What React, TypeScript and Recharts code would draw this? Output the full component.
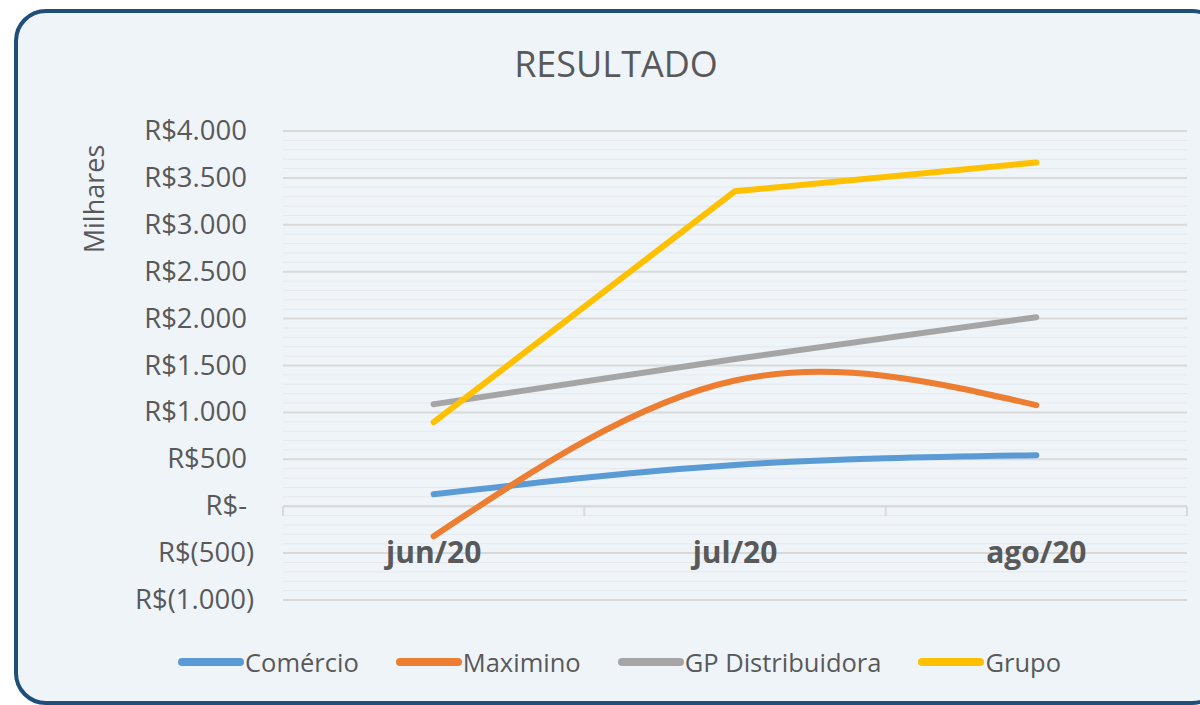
import React from 'react';
import { LineChart, Line, XAxis, YAxis, CartesianGrid, ReferenceLine } from 'recharts';

const categories = ['jun/20', 'jul/20', 'ago/20'];
const comercio = [128, 440, 544];
const maximino = [-320, 1340, 1077];
const gpDistribuidora = [1087, 1570, 2015];
const grupo = [896, 3358, 3665];
const yTicks = [-1000, -500, 0, 500, 1000, 1500, 2000, 2500, 3000, 3500, 4000];
const minorTicks = Array.from({ length: 51 }, (_, i) => -1000 + i * 100);
const categoryEdges = [-0.5, 0.5, 1.5, 2.5];

const series = [
  { key: 'comercio', name: 'Comércio', color: '#5b9bd5', curve: 'natural' as const },
  { key: 'maximino', name: 'Maximino', color: '#ed7d31', curve: 'natural' as const },
  { key: 'gp', name: 'GP Distribuidora', color: '#a5a5a5', curve: 'natural' as const },
  { key: 'grupo', name: 'Grupo', color: '#ffc000', curve: 'linear' as const },
];

const data = categories.map((c, i) => ({
  idx: i,
  name: c,
  comercio: comercio[i],
  maximino: maximino[i],
  gp: gpDistribuidora[i],
  grupo: grupo[i],
}));

const FONT = '"Open Sans", "Noto Sans", sans-serif';
const TEXT = '#595959';

function fmt(v: number): string {
  if (v === 0) return 'R$-';
  const s = String(Math.abs(v)).replace(/\B(?=(\d{3})+(?!\d))/g, '.');
  return v < 0 ? `R$(${s})` : `R$${s}`;
}

const YTick = (props: any) => {
  const { x, y, payload } = props;
  const v = payload.value as number;
  return (
    <text x={x} y={y} dx={v < 0 ? 7 : 0} dy={9} textAnchor="end" fill={TEXT} fontSize={27.5} fontFamily={FONT}>
      {fmt(v)}
    </text>
  );
};

const XTick = (props: any) => {
  const { x, y, payload } = props;
  return (
    <text x={x} y={y} dy={-37} textAnchor="middle" fill={TEXT} fontSize={30} fontWeight={700} fontFamily={FONT}>
      {categories[payload.value]}
    </text>
  );
};

export default function App() {
  return (
    <div style={{ position: 'fixed', left: 0, top: 0, width: 1200, height: 705, overflow: 'hidden', background: '#ffffff', fontFamily: FONT }}>
      <div
        style={{
          position: 'absolute',
          left: 14,
          top: 9,
          width: 1210,
          height: 696,
          boxSizing: 'border-box',
          border: '4px solid #1f4e79',
          borderRadius: 32,
          background: '#eff4f9',
        }}
      />
      <div
        style={{
          position: 'absolute',
          left: 0,
          top: 46,
          width: 1232,
          textAlign: 'center',
          fontSize: 36,
          lineHeight: '36px',
          color: TEXT,
        }}
      >
        RESULTADO
      </div>
      <div
        style={{
          position: 'absolute',
          left: 93,
          top: 199,
          transform: 'translate(-50%, -50%) rotate(-90deg)',
          fontSize: 27,
          lineHeight: '27px',
          color: TEXT,
          whiteSpace: 'nowrap',
        }}
      >
        Milhares
      </div>
      <div style={{ position: 'absolute', left: 0, top: 0 }}>
        <LineChart width={1200} height={705} data={data} margin={{ top: 131, right: 13, bottom: 75, left: 183 }}>
          <CartesianGrid horizontalValues={minorTicks} vertical={false} stroke="#e5e9ed" strokeWidth={1} />
          <CartesianGrid vertical={false} stroke="#d9d9d9" strokeWidth={2} />
          <XAxis
            dataKey="idx"
            type="number"
            domain={[-0.5, 2.5]}
            ticks={[0, 1, 2]}
            axisLine={false}
            tickLine={false}
            tickSize={0}
            tickMargin={0}
            height={30}
            tick={<XTick />}
            interval={0}
          />
          <YAxis
            domain={[-1000, 4000]}
            ticks={yTicks}
            axisLine={false}
            tickLine={false}
            tickSize={0}
            tickMargin={36}
            width={100}
            interval={0}
            tick={<YTick />}
          />
          <ReferenceLine y={0} stroke="#d9d9d9" strokeWidth={2} />
          {categoryEdges.map((e) => (
            <ReferenceLine
              key={e}
              segment={[
                { x: e, y: 0 },
                { x: e, y: -105 },
              ]}
              stroke="#d9d9d9"
              strokeWidth={2}
            />
          ))}
          {series.map((s) => (
            <Line
              key={s.key}
              dataKey={s.key}
              name={s.name}
              type={s.curve}
              stroke={s.color}
              strokeWidth={6}
              strokeLinecap="round"
              strokeLinejoin="round"
              dot={false}
              activeDot={false}
              isAnimationActive={false}
            />
          ))}
        </LineChart>
      </div>
      <div
        style={{
          position: 'absolute',
          left: 0,
          top: 647,
          width: 1238,
          height: 30,
          display: 'flex',
          justifyContent: 'center',
          alignItems: 'center',
          gap: 36,
        }}
      >
        {series.map((s) => (
          <div key={s.key} style={{ display: 'flex', alignItems: 'center' }}>
            <svg width={68} height={10} style={{ display: 'block' }}>
              <line x1={5} y1={5} x2={63} y2={5} stroke={s.color} strokeWidth={8} strokeLinecap="round" />
            </svg>
            <span style={{ fontSize: 25.5, color: TEXT, lineHeight: '30px' }}>{s.name}</span>
          </div>
        ))}
      </div>
    </div>
  );
}
